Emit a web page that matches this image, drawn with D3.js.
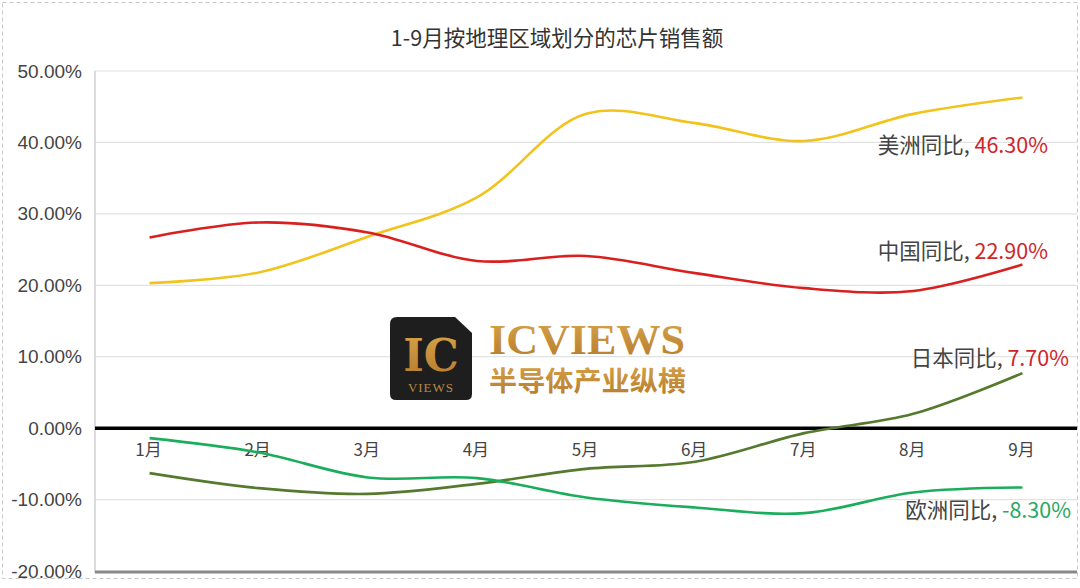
<!DOCTYPE html>
<html><head><meta charset="utf-8">
<script src="https://cdn.jsdelivr.net/npm/d3@7/dist/d3.min.js"></script>
<style>body{margin:0;background:#fff;} svg{display:block;font-family:"Noto Sans CJK SC","Noto Sans",sans-serif;}</style>
</head><body>
<svg id="c" width="1080" height="588"></svg>
<script>
const months = ["1月","2月","3月","4月","5月","6月","7月","8月","9月"];
const americas = [20.3, 21.8, 26.8, 32.3, 44.0, 42.7, 40.2, 44.0, 46.3];
const china    = [26.7, 28.8, 27.4, 23.4, 24.1, 21.7, 19.6, 19.2, 22.9];
const japan    = [-6.3, -8.4, -9.2, -7.8, -5.7, -4.7, -0.7, 2.0, 7.7];
const europe   = [-1.4, -3.4, -6.9, -7.0, -9.7, -11.1, -11.9, -9.0, -8.3];
const yTicks = [50, 40, 30, 20, 10, 0, -10, -20];
const title = "1-9月按地理区域划分的芯片销售额";

const svg = d3.select("#c");
const L = 95, R = 1077, T = 71, B = 571;
const x = d3.scalePoint().domain(months).range([L, R]).padding(0.5);
const y = d3.scaleLinear().domain([-20, 50]).range([B, T]);

// dashed frame
svg.append("rect").attr("x",2.5).attr("y",2.5).attr("width",1075).attr("height",576)
  .attr("fill","none").attr("stroke","#c8c8c8").attr("stroke-dasharray","4,3");

// title
svg.append("text").attr("x",557).attr("y",46).attr("text-anchor","middle")
  .attr("font-size",21.5).attr("fill","#333").text(title);

// gridlines
svg.append("g").selectAll("line").data(yTicks.filter(d=>d!==0&&d!==-20)).join("line")
  .attr("x1",L).attr("x2",R).attr("y1",d=>y(d)).attr("y2",d=>y(d))
  .attr("stroke","#e2e2e2").attr("stroke-width",1.2);

// y axis labels
const yAxis = d3.axisLeft(y).tickValues(yTicks).tickFormat(d=>d.toFixed(2)+"%").tickSize(0).tickPadding(13);
const ga = svg.append("g").attr("transform",`translate(${L},0)`).call(yAxis);
ga.select(".domain").remove();
ga.selectAll("text").attr("font-size",19).attr("fill","#444").attr("font-family","'Liberation Sans','Noto Sans',sans-serif");

// left axis line
svg.append("line").attr("x1",L).attr("x2",L).attr("y1",T).attr("y2",B+2).attr("stroke","#d0d0d0").attr("stroke-width",1.5);
// bottom line
svg.append("line").attr("x1",L).attr("x2",R).attr("y1",B+1).attr("y2",B+1).attr("stroke","#888").attr("stroke-width",3);

// logo watermark
const lg = svg.append("g");
const defs = svg.append("defs");
const grad = defs.append("linearGradient").attr("id","gold").attr("x1",0).attr("y1",0).attr("x2",0).attr("y2",1);
grad.append("stop").attr("offset","0%").attr("stop-color","#d9a44a");
grad.append("stop").attr("offset","100%").attr("stop-color","#b47a2c");
lg.append("path").attr("d","M397,317 L455,317 L472,333 L472,394 Q472,400 466,400 L396,400 Q390,400 390,394 L390,324 Q390,317 397,317 Z").attr("fill","#1e1e1e");
lg.append("text").attr("x",431).attr("y",371).attr("text-anchor","middle").attr("font-family","'DejaVu Serif','Liberation Serif',serif")
  .attr("font-weight","bold").attr("font-size",44).attr("fill","url(#gold)").text("IC");
lg.append("text").attr("x",431).attr("y",392).attr("text-anchor","middle").attr("font-family","'Liberation Serif',serif")
  .attr("font-size",13).attr("fill","#b88a44").attr("letter-spacing",1).text("VIEWS");
lg.append("text").attr("x",489).attr("y",354).attr("font-family","'Liberation Serif',serif")
  .attr("font-weight","bold").attr("font-size",42).attr("fill","url(#gold)").attr("textLength",196).attr("lengthAdjust","spacingAndGlyphs").text("ICVIEWS");
lg.append("text").attr("x",489).attr("y",391).attr("font-family","'Noto Sans CJK SC',sans-serif")
  .attr("font-weight","bold").attr("font-size",27).attr("fill","url(#gold)").attr("textLength",197).attr("lengthAdjust","spacingAndGlyphs").text("半导体产业纵横");

// zero line
svg.append("line").attr("x1",L).attr("x2",R).attr("y1",y(0)).attr("y2",y(0)).attr("stroke","#000").attr("stroke-width",3.5);

// month labels
svg.append("g").selectAll("text").data(months).join("text")
  .attr("x",d=>x(d)-1).attr("y",y(0)+28).attr("text-anchor","middle")
  .attr("font-size",17).attr("fill","#444").text(d=>d);

// lines
const series = [
  {name:"美洲同比", vals:americas, color:"#f2c31b"},
  {name:"中国同比", vals:china, color:"#d9201f"},
  {name:"日本同比", vals:japan, color:"#557a2e"},
  {name:"欧洲同比", vals:europe, color:"#1aad5b"}
];
const line = d3.line().x((d,i)=>x(months[i])).y(d=>y(d)).curve(d3.curveCatmullRom.alpha(0.5));
svg.append("g").selectAll("path").data(series).join("path")
  .attr("d",d=>line(d.vals)).attr("fill","none").attr("stroke",d=>d.color).attr("stroke-width",2.6);

// end labels
const labels = [
  {s:series[0], xEnd:1048, yy:153, vc:"#d0252c"},
  {s:series[1], xEnd:1048, yy:259, vc:"#d0252c"},
  {s:series[2], xEnd:1069, yy:366, vc:"#d0252c"},
  {s:series[3], xEnd:1071, yy:518, vc:"#2aa860"}
];
labels.forEach(l=>{
  const t = svg.append("text").attr("x",l.xEnd).attr("y",l.yy).attr("text-anchor","end").attr("font-size",21.5);
  t.append("tspan").attr("fill","#444").text(l.s.name+", ");
  t.append("tspan").attr("fill",l.vc).text(l.s.vals[8].toFixed(2)+"%");
});
</script>
</body></html>
